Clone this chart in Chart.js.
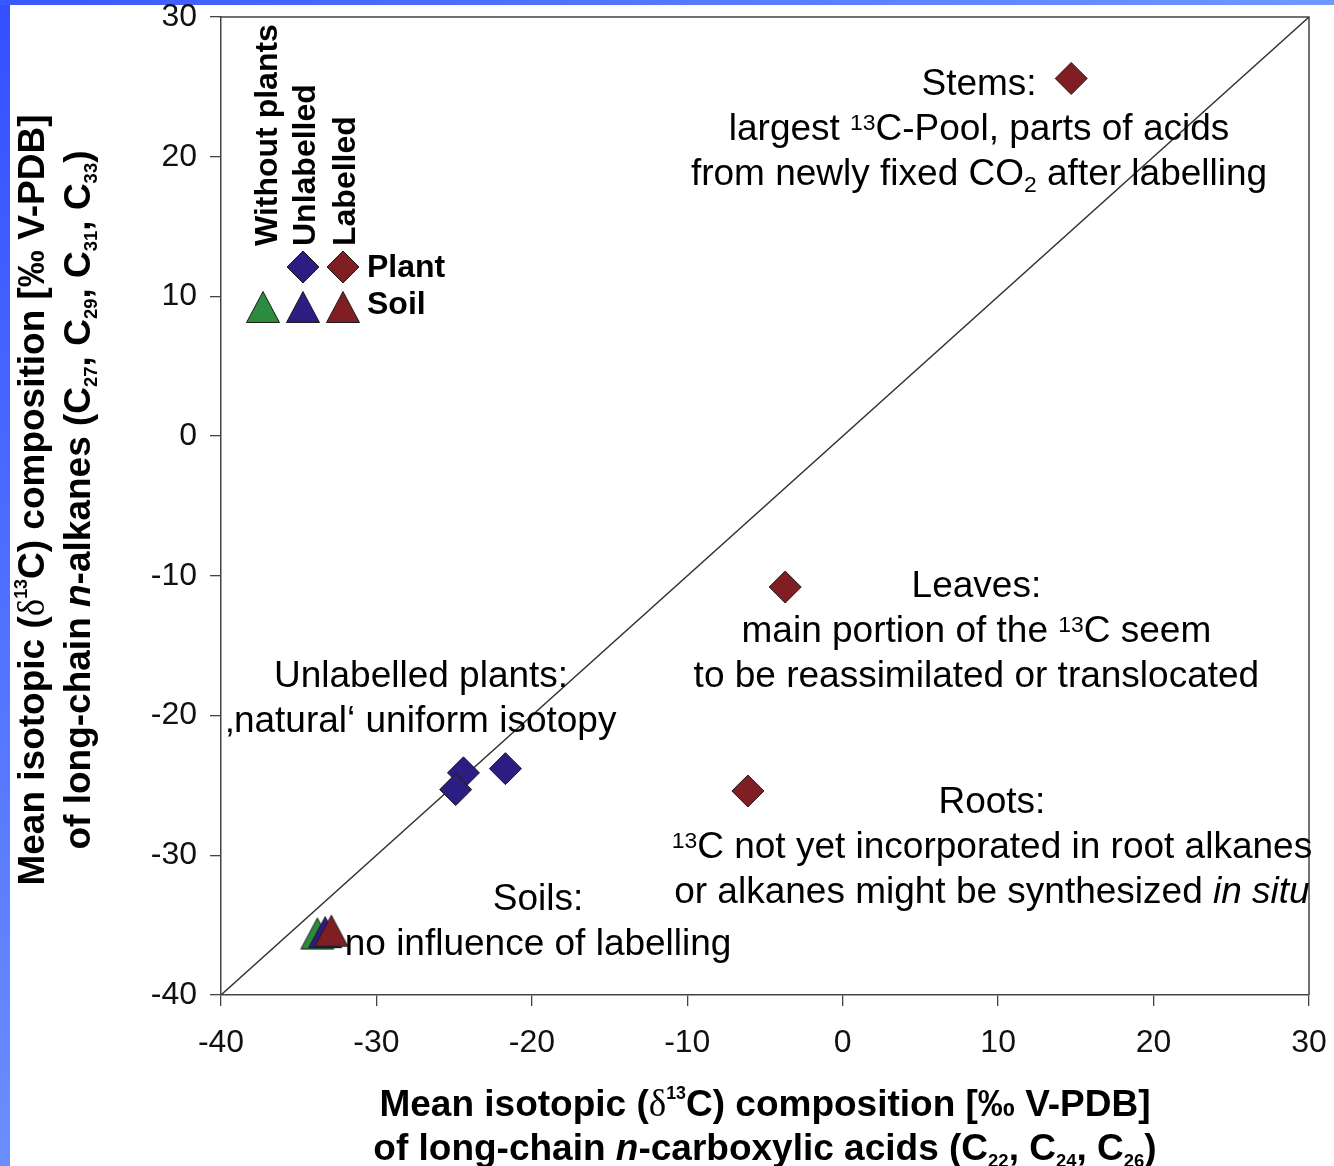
<!DOCTYPE html>
<html><head><meta charset="utf-8">
<script src="https://cdn.jsdelivr.net/npm/chart.js@4.4.1/dist/chart.umd.min.js"></script>
<style>html,body{margin:0;padding:0;background:#fff;overflow:hidden}#wrap{width:1334px;height:1166px;position:relative}</style>
</head><body><div id="wrap"><canvas id="c" width="1334" height="1166"></canvas></div>
<script>
// ---- data ----
const xTicks = [-40, -30, -20, -10, 0, 10, 20, 30];
const yTicks = [-40, -30, -20, -10, 0, 10, 20, 30];
const plantUnlabelledX = [-24.4, -24.9, -21.7];
const plantUnlabelledY = [-24.1, -25.3, -23.8];
const plantLabelledNames = ['Stems', 'Leaves', 'Roots'];
const plantLabelledX = [14.7, -3.7, -6.1];
const plantLabelledY = [25.6, -10.8, -25.4];
const soilGroups = ['Without plants', 'Unlabelled', 'Labelled'];
const soilX = [-33.8, -33.3, -32.9];
const soilY = [-35.6, -35.5, -35.4];
const oneToOneX = [-40, 30];
const oneToOneY = [-40, 30];

const BLUE = '#2b1d82', RED = '#7f1f24', GREEN = '#2c8b3e', EDGE = '#1c1c1c';
const SANS = "'Liberation Sans', Arial, sans-serif";
const SERIF = "'Liberation Serif', 'Times New Roman', serif";

function triImg(color) {
  const c = document.createElement('canvas'); c.width = 36; c.height = 34;
  const g = c.getContext('2d');
  g.beginPath(); g.moveTo(1.5, 32.5); g.lineTo(18, 1.5); g.lineTo(34.5, 32.5); g.closePath();
  g.fillStyle = color; g.fill(); g.lineWidth = 1; g.strokeStyle = EDGE; g.stroke();
  return c;
}
const soilColors = [GREEN, BLUE, RED];
const soilImgs = soilColors.map(triImg);

const zip = (xs, ys) => xs.map((x, i) => ({x, y: ys[i]}));

// ---- rich text helper ----
function fontFor(f, size) {
  const sz = (f.sup || f.sub) ? size * (f.scale || 0.62) : size;
  return (f.i ? 'italic ' : '') + (f.b ? 'bold ' : '') + sz.toFixed(1) + 'px ' + (f.serif ? SERIF : (f.family || SANS));
}
function drawRich(ctx, segs, x, y, size, align, base) {
  base = base || {};
  let total = 0;
  const parts = segs.map(s => {
    const [t, f0] = Array.isArray(s) ? s : [s, {}];
    const f = Object.assign({}, base, f0 || {});
    ctx.font = fontFor(f, size);
    const w = ctx.measureText(t).width;
    total += w;
    return {t, f, w};
  });
  let cx = align === 'center' ? x - total / 2 : x;
  ctx.textAlign = 'left'; ctx.textBaseline = 'alphabetic';
  parts.forEach(p => {
    ctx.font = fontFor(p.f, size);
    let dy = 0;
    if (p.f.sup) dy = -size * (p.f.supRaise || 0.28);
    if (p.f.sub) dy = size * 0.2;
    ctx.fillText(p.t, cx, y + dy);
    cx += p.w;
  });
}

// ---- annotation config (anchor in data units, first-line baseline) ----
const annotations = [
  {x: 8.77, y: 24.42, lines: [
    ['Stems:'],
    ['largest ', ['13', {sup: true}], 'C-Pool, parts of acids'],
    ['from newly fixed CO', ['2', {sub: true}], ' after labelling']]},
  {x: 8.6, y: -11.54, lines: [
    ['Leaves:'],
    ['main portion of the ', ['13', {sup: true}], 'C seem'],
    ['to be reassimilated or translocated']]},
  {x: -27.13, y: -17.98, lines: [
    ['Unlabelled plants:'],
    ['\u201Anatural\u2018 uniform isotopy']]},
  {x: 9.6, y: -26.99, lines: [
    ['Roots:'],
    [['13', {sup: true}], 'C not yet incorporated in root alkanes'],
    ['or alkanes might be synthesized ', ['in situ', {i: true}]]]},
  {x: -19.6, y: -33.92, lines: [
    ['Soils:'],
    ['no influence of labelling']]}
];

const SUP_T = {sup: true, supRaise: 0.45, scale: 0.48};
const SUB_T = {sub: true, scale: 0.5};
const xTitle = [
  ['Mean isotopic (', ['\u03B4', {serif: true, b: false}], ['13', SUP_T], 'C) composition [\u2030 V-PDB]'],
  ['of long-chain ', ['n', {i: true}], '-carboxylic acids (C', ['22', SUB_T], ', C', ['24', SUB_T], ', C', ['26', SUB_T], ')']
];
const yTitle = [
  ['Mean isotopic (', ['\u03B4', {serif: true, b: false}], ['13', SUP_T], 'C) composition [\u2030 V-PDB]'],
  ['of long-chain ', ['n', {i: true}], '-alkanes (C', ['27', SUB_T], ', C', ['29', SUB_T], ', C', ['31', SUB_T], ', C', ['33', SUB_T], ')']
];

const decor = {
  id: 'decor',
  beforeDraw(chart) {
    const ctx = chart.ctx, W = chart.width, H = chart.height;
    ctx.save();
    ctx.fillStyle = '#fff'; ctx.fillRect(0, 0, W, H);
    let g = ctx.createLinearGradient(0, 0, 0, H);
    g.addColorStop(0, '#3350ff'); g.addColorStop(1, '#6b8eff');
    ctx.fillStyle = g; ctx.fillRect(0, 0, 10, H);
    g = ctx.createLinearGradient(0, 0, W, 0);
    g.addColorStop(0, '#3a58ff'); g.addColorStop(1, '#6f98ff');
    ctx.fillStyle = g; ctx.fillRect(0, 0, W, 5);
    ctx.restore();
  },
  beforeDatasetsDraw(chart) {
    const ctx = chart.ctx, a = chart.chartArea;
    ctx.save();
    ctx.strokeStyle = '#444'; ctx.lineWidth = 1.5;
    ctx.beginPath();
    ctx.moveTo(a.left, a.top); ctx.lineTo(a.right, a.top); ctx.lineTo(a.right, a.bottom);
    ctx.stroke();
    ctx.restore();
  },
  afterDraw(chart) {
    const ctx = chart.ctx, a = chart.chartArea, xs = chart.scales.x, ys = chart.scales.y;
    ctx.save();
    ctx.fillStyle = '#000';
    annotations.forEach(an => {
      const px = xs.getPixelForValue(an.x), py = ys.getPixelForValue(an.y);
      an.lines.forEach((ln, i) => drawRich(ctx, ln, px, py + i * 45, 37, 'center'));
    });
    const L = a.left, T = a.top;
    ctx.font = 'bold 32px ' + SANS;
    const colX = [L + 56, L + 94, L + 134];
    soilGroups.forEach((t, i) => {
      ctx.save(); ctx.translate(colX[i], T + 229); ctx.rotate(-Math.PI / 2);
      ctx.textAlign = 'left'; ctx.textBaseline = 'alphabetic'; ctx.fillText(t, 0, 0);
      ctx.restore();
    });
    const mx = [L + 42, L + 82, L + 122];
    [[1, BLUE], [2, RED]].forEach(([i, col]) => {
      const cx = mx[i], cy = T + 250, r = 16;
      ctx.beginPath(); ctx.moveTo(cx - r, cy); ctx.lineTo(cx, cy - r); ctx.lineTo(cx + r, cy); ctx.lineTo(cx, cy + r); ctx.closePath();
      ctx.fillStyle = col; ctx.fill(); ctx.lineWidth = 1; ctx.strokeStyle = EDGE; ctx.stroke();
    });
    soilImgs.forEach((img, i) => ctx.drawImage(img, mx[i] - 18, T + 290 - 17));
    ctx.fillStyle = '#000';
    ctx.font = 'bold 32px ' + SANS; ctx.textAlign = 'left'; ctx.textBaseline = 'alphabetic';
    ctx.fillText('Plant', L + 146, T + 260);
    ctx.fillText('Soil', L + 146, T + 297);
    const xc = (a.left + a.right) / 2;
    drawRich(ctx, xTitle[0], xc, 1116, 37, 'center', {b: true});
    drawRich(ctx, xTitle[1], xc, 1160, 37, 'center', {b: true});
    const yc = 500;
    [[yTitle[0], 44], [yTitle[1], 90]].forEach(([ln, bx]) => {
      ctx.save(); ctx.translate(bx, yc); ctx.rotate(-Math.PI / 2);
      drawRich(ctx, ln, 0, 0, 37, 'center', {b: true});
      ctx.restore();
    });
    ctx.restore();
  }
};

new Chart(document.getElementById('c'), {
  type: 'scatter',
  data: {
    datasets: [
      {label: '1:1', type: 'line', data: zip(oneToOneX, oneToOneY), borderColor: '#333', borderWidth: 1.4,
       pointRadius: 0, fill: false, order: 10},
      ...soilGroups.map((g, i) => ({label: 'Soil ' + g, data: [{x: soilX[i], y: soilY[i]}],
        pointStyle: soilImgs[i], order: 5 - i})),
      {label: 'Plant unlabelled', data: zip(plantUnlabelledX, plantUnlabelledY), pointStyle: 'rectRot',
       pointRadius: 16, backgroundColor: BLUE, borderColor: EDGE, borderWidth: 1, order: 1},
      {label: 'Plant labelled', data: zip(plantLabelledX, plantLabelledY), pointStyle: 'rectRot',
       pointRadius: 16, backgroundColor: RED, borderColor: EDGE, borderWidth: 1, order: 0}
    ]
  },
  options: {
    responsive: false, animation: false, events: [],
    layout: {padding: {left: 0, top: 16, right: 25, bottom: 0}},
    plugins: {legend: {display: false}, tooltip: {enabled: false}, title: {display: false}},
    scales: {
      x: {type: 'linear', min: -40, max: 30,
        afterBuildTicks(s) { s.ticks = xTicks.map(v => ({value: v})); },
        ticks: {font: {family: SANS, size: 32}, color: '#111', padding: 18, maxRotation: 0, autoSkip: false},
        grid: {drawOnChartArea: false, drawTicks: true, tickLength: 11, color: '#444', lineWidth: 1.3},
        border: {display: true, color: '#444', width: 1.5},
        afterFit(s) { s.height = 171; s.paddingLeft = 0; s.paddingRight = 0; }
      },
      y: {type: 'linear', min: -40, max: 30,
        afterBuildTicks(s) { s.ticks = yTicks.map(v => ({value: v})); },
        ticks: {font: {family: SANS, size: 32}, color: '#111', padding: 13, autoSkip: false},
        grid: {drawOnChartArea: false, drawTicks: true, tickLength: 11, color: '#444', lineWidth: 1.3},
        border: {display: true, color: '#444', width: 1.5},
        afterFit(s) { s.width = 221; s.paddingTop = 0; s.paddingBottom = 0; }
      }
    }
  },
  plugins: [decor]
});
</script></body></html>
